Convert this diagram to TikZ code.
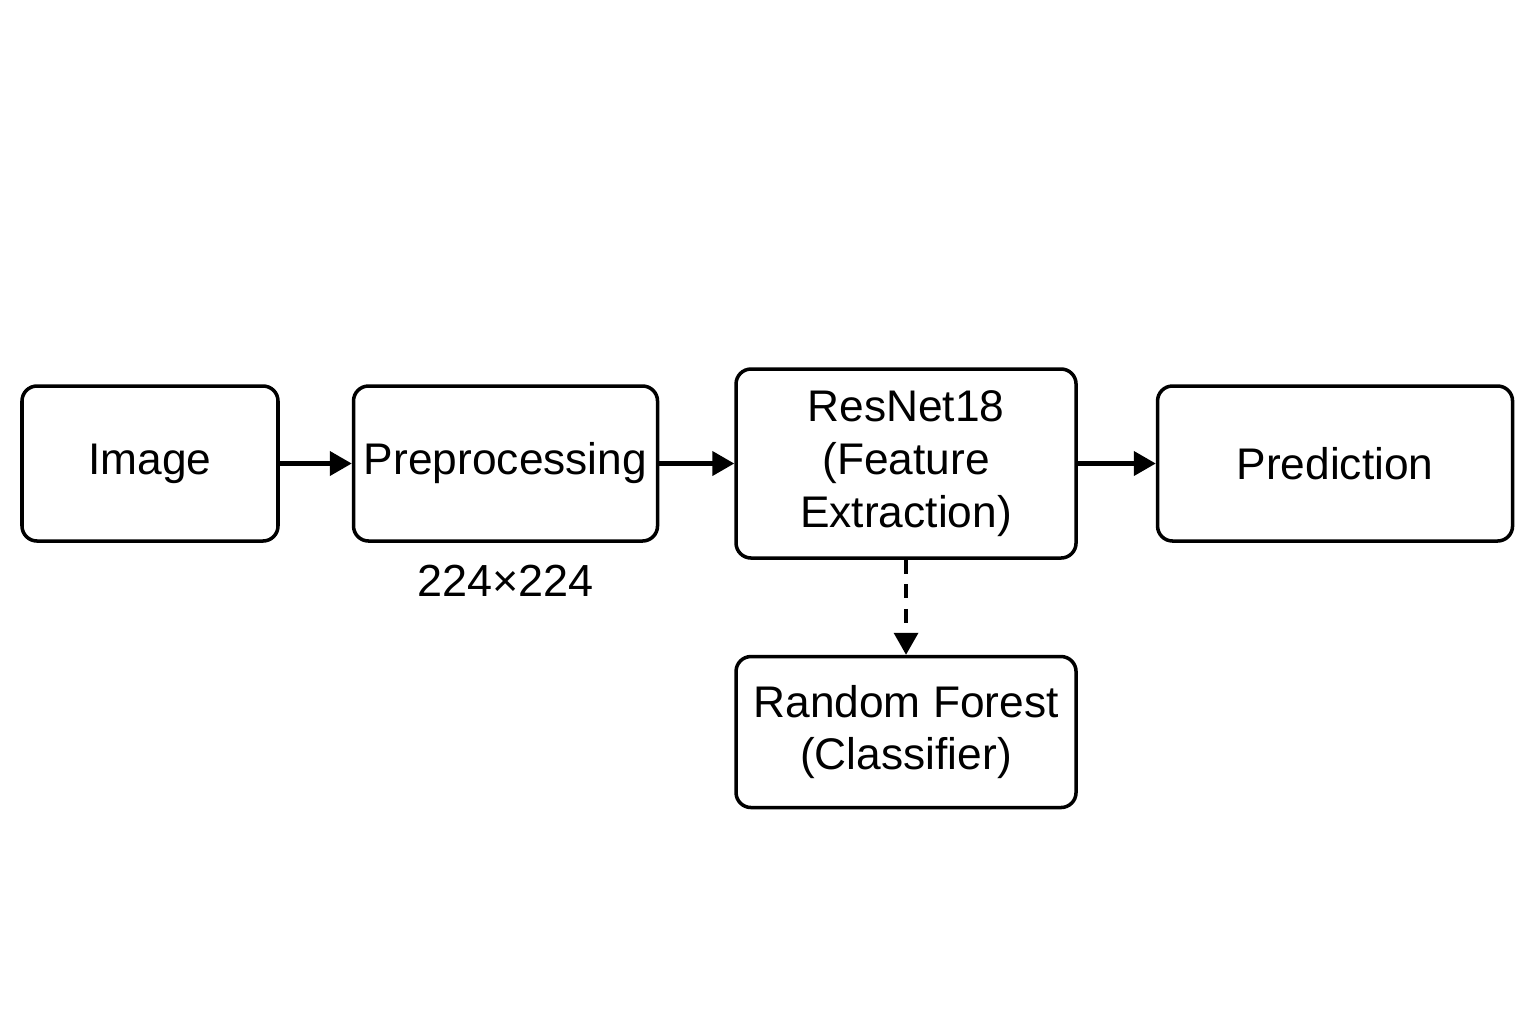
\documentclass[tikz,border=0pt]{standalone}
\usepackage{fontspec}
\setmainfont{Liberation Sans}
\usetikzlibrary{arrows.meta,positioning}

\begin{document}
\begin{tikzpicture}[node distance=0.78cm, auto, >={Triangle[length=0.22cm,width=0.24cm]},
    block/.style={draw, rectangle, rounded corners=0.15cm, line width=1pt, inner sep=1pt, align=center, font=\fontsize{12.6}{15}\selectfont}]
        \useasboundingbox (0,0) rectangle (15.36,-10.24);
        % Nodo de entrada: la imagen
        \node[block, minimum width=2.56cm, minimum height=1.55cm] (image) at (1.50,-4.635) {Image};
        % Nodo de preprocesado
        \node[block, minimum width=3.04cm, minimum height=1.55cm, right=0.72cm of image] (preproc) {Preprocessing};
        % Tamaño de entrada
        \node[font=\fontsize{12.8}{15}\selectfont, below=0.1cm of preproc] (size) {224×224};
        % Extractor de características
        \node[block, minimum width=3.40cm, minimum height=1.89cm, right=0.75cm of preproc] (resnet) {ResNet18\\(Feature\\Extraction)};
        % Nodo de salida
        \node[block, minimum width=3.55cm, minimum height=1.55cm, right=0.78cm of resnet] (prediction) {Prediction};
        % Clasificador
        \node[block, minimum width=3.40cm, minimum height=1.51cm, below=0.95cm of resnet] (forest) {Random Forest\\(Classifier)};
        % Flechas del flujo principal
        \draw[->, line width=1.2pt] (image) -- (preproc);
        \draw[->, line width=1.2pt] (preproc) -- (resnet);
        \draw[->, line width=1.2pt] (resnet) -- (prediction);
        % Flecha discontinua hacia el clasificador
        \draw[->, line width=1pt, dash pattern=on 4pt off 3pt] (resnet) -- (forest);
    \end{tikzpicture}
\end{document}
